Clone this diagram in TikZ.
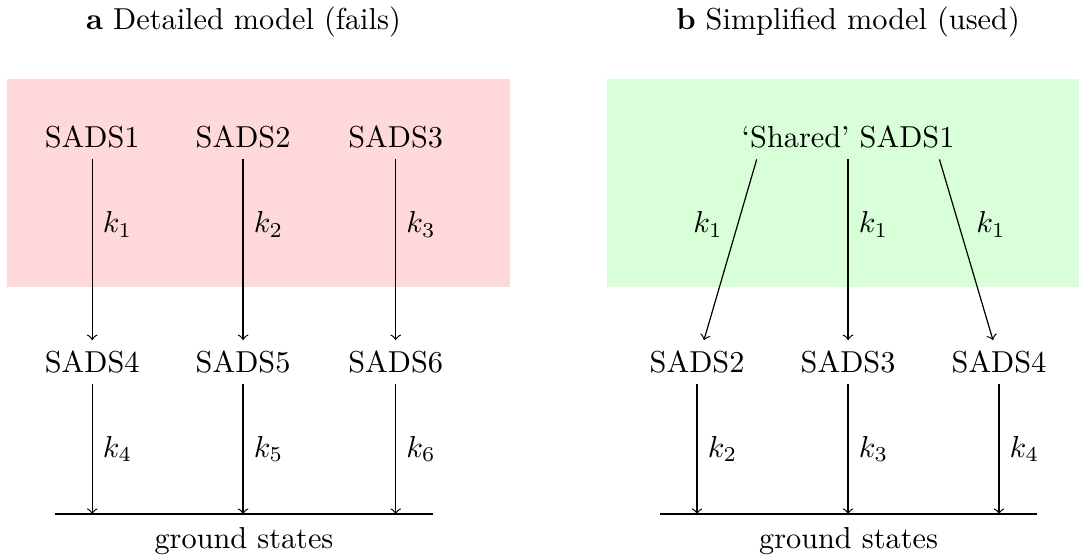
\documentclass[tikz,border=0pt]{standalone}
\usetikzlibrary{positioning}
\begin{document}
\begin{tikzpicture}[rate/.style={->},gnd/.style={thick},klab/.style={right}]
            \useasboundingbox (0,0) rectangle (12.517,-6.45);
            % backgrounds
            \fill [red!15] (0.081,-0.916) rectangle (5.916,-3.329);
            \fill [green!15] (7.042,-0.916) rectangle (12.517,-3.329);
            % titles
            \node (ta) at (2.825,-0.255) {\textbf{a} Detailed model (fails)};
            \node (tb) at (9.838,-0.255) {\textbf{b} Simplified model (used)};
            % a: detailed model
            \node (a1) at (1.07,-1.595) {SADS1};
            \node (a2) at (2.82,-1.595) {SADS2};
            \node (a3) at (4.59,-1.595) {SADS3};
            \node (a4) at (1.07,-4.2) {SADS4};
            \node (a5) at (2.82,-4.2) {SADS5};
            \node (a6) at (4.59,-4.2) {SADS6};
            \coordinate (gaL) at (0.638,-5.963);
            \coordinate (gaR) at (5.023,-5.963);
            \draw [gnd] (gaL)--(gaR) node[midway,below,yshift=-0.03cm] (ga) {ground states};
            \draw [rate] (a1)--(a4) node[klab,pos=0.36]{$k_1$};
            \draw [rate] (a2)--(a5) node[klab,pos=0.36]{$k_2$};
            \draw [rate] (a3)--(a6) node[klab,pos=0.36]{$k_3$};
            \draw [rate] (a4)--(a4 |- gaL) node[klab,midway]{$k_4$};
            \draw [rate] (a5)--(a5 |- gaL) node[klab,midway]{$k_5$};
            \draw [rate] (a6)--(a6 |- gaL) node[klab,midway]{$k_6$};
            % b: simplified model
            \node (b1) at (9.838,-1.595) {`Shared' SADS1};
            \node (b2) at (8.086,-4.2) {SADS2};
            \node (b3) at (9.838,-4.2) {SADS3};
            \node (b4) at (11.589,-4.2) {SADS4};
            \coordinate (gbL) at (7.657,-5.963);
            \coordinate (gbR) at (12.03,-5.963);
            \draw [gnd] (gbL)--(gbR) node[midway,below,yshift=-0.03cm] (gb) {ground states};
            \draw [rate] ([xshift=-1.06cm]b1.south)--([xshift=0.08cm]b2.north) node[left,pos=0.36,xshift=-0.05cm]{$k_1$};
            \draw [rate] (b1)--(b3) node[klab,pos=0.36]{$k_1$};
            \draw [rate] ([xshift=1.06cm]b1.south)--([xshift=-0.07cm]b4.north) node[klab,pos=0.36,xshift=0.08cm]{$k_1$};
            \draw [rate] (b2)--(b2 |- gbL) node[klab,midway]{$k_2$};
            \draw [rate] (b3)--(b3 |- gbL) node[klab,midway]{$k_3$};
            \draw [rate] (b4)--(b4 |- gbL) node[klab,midway]{$k_4$};
            \end{tikzpicture}
\end{document}
